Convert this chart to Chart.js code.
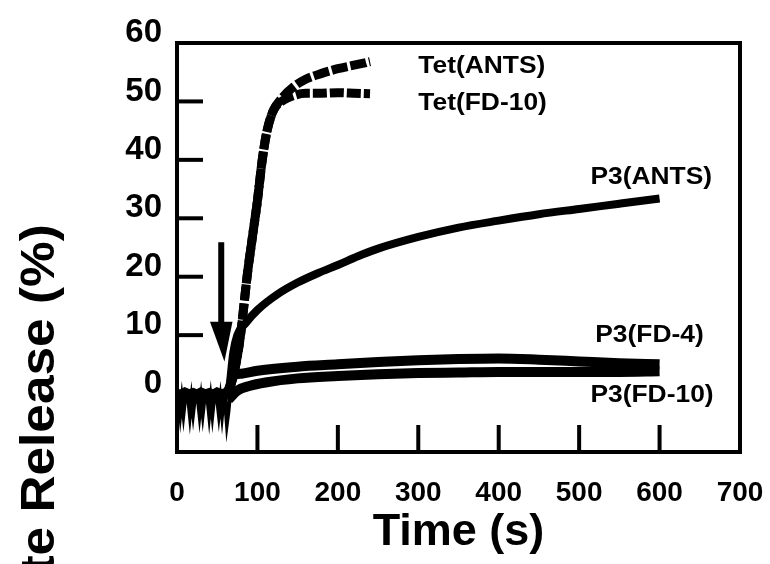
<!DOCTYPE html>
<html>
<head>
<meta charset="utf-8">
<script src="https://cdn.jsdelivr.net/npm/chart.js@4"></script>
<style>
html,body{margin:0;padding:0;background:#fff;}
#wrap{position:relative;width:770px;height:564px;}
</style>
</head>
<body>
<div id="wrap"><canvas id="c" width="770" height="564"></canvas></div>
<script>
// ---- data ----
const xTickValues = [0,100,200,300,400,500,600,700];
const yTickValues = [0,10,20,30,40,50,60];
const xTitle = 'Time (s)';
const yTitle = 'Solute Release (%)';

// pre-injection baseline (noisy band) and its downward noise teeth
const baselineX = [0,5,10,15,20,25,30,35,40,45,50,55,60,64];
const baselineY = [-0.2,-0.5,-0.1,-0.4,-0.2,-0.5,-0.1,-0.4,-0.2,-0.5,-0.1,-0.4,-0.2,-0.3];
const teethX = [2,4,6,8,10,14,16,18,20,22,26,28,30,32,34,38,40,42,44,46,50,52,54,56,58,60,62,64,66];
const teethY = [-1,-3.6,-1,-3.5,-1,-1,-3.7,-1,-3.4,-1,-1,-3.6,-1,-3.5,-1,-1,-3.7,-1,-3.6,-1,-1,-3.5,-1,-3.7,-1,-1.5,-5.1,-3,0];

const tetAntsX = [62,70,78,88,95,100,106,112,120,130,145,160,180,200,220,240];
const tetAntsY = [0,3,9,21,28,33,40,45,48.5,50.5,52.5,53.8,54.8,55.6,56.2,56.8];
const tetFd10X = [62,70,78,88,95,100,106,112,120,130,145,160,180,200,220,240];
const tetFd10Y = [0,3,9,21,28,33,40,45,48.5,50,51,51.4,51.4,51.5,51.4,51.3];

const p3AntsX = [66,70,75,85,100,125,150,175,200,225,250,300,350,400,450,500,550,600];
const p3AntsY = [2,7,10,12,14.3,17,19,20.6,22,23.5,24.8,26.8,28.4,29.6,30.7,31.6,32.5,33.4];

const p3Fd4X = [64,70,80,100,150,200,250,300,350,400,450,500,550,600];
const p3Fd4Y = [0,3,3.4,3.9,4.6,5.0,5.4,5.7,5.9,6.0,5.8,5.5,5.2,5.0];
const p3Fd10X = [64,75,90,110,150,200,250,300,350,400,450,500,550,600];
const p3Fd10Y = [-1,0.5,1.3,1.9,2.6,3.0,3.3,3.5,3.6,3.7,3.7,3.7,3.7,3.8];

// annotation labels (data coordinates)
const labelTexts = ['Tet(ANTS)','Tet(FD-10)','P3(ANTS)','P3(FD-4)','P3(FD-10)'];
const labelX = [300,300,514,520,514];
const labelY = [56,49.7,37,10,-0.3];

// injection arrow (data coordinates)
const arrowX = 55;
const arrowTopY = 25.9;
const arrowHeadBaseY = 12.3;
const arrowHeadLeftX = 41;
const arrowHeadRightX = 69;
const arrowTipX = 59;
const arrowTipY = 5.5;

function pts(xs, ys){ return xs.map((x,i)=>({x:x, y:ys[i]})); }

const FONT = "'Liberation Sans', Arial, Helvetica, sans-serif";

const framePlugin = {
  id: 'frame',
  afterDatasetsDraw(chart){
    const {ctx, chartArea:a, scales:{x, y}} = chart;
    ctx.save();
    ctx.strokeStyle = '#000';
    ctx.fillStyle = '#000';
    // arrow
    const ax = x.getPixelForValue(arrowX);
    ctx.lineWidth = 6;
    ctx.beginPath();
    ctx.moveTo(ax, y.getPixelForValue(arrowTopY));
    ctx.lineTo(ax, y.getPixelForValue(arrowHeadBaseY)+2);
    ctx.stroke();
    ctx.beginPath();
    ctx.moveTo(x.getPixelForValue(arrowHeadLeftX), y.getPixelForValue(arrowHeadBaseY));
    ctx.lineTo(x.getPixelForValue(arrowHeadRightX), y.getPixelForValue(arrowHeadBaseY));
    ctx.lineTo(x.getPixelForValue(arrowTipX), y.getPixelForValue(arrowTipY));
    ctx.closePath();
    ctx.fill();
    // inward ticks
    ctx.lineWidth = 4;
    xTickValues.forEach(v=>{
      if (v<=x.min || v>=x.max) return;
      const px = x.getPixelForValue(v);
      ctx.beginPath(); ctx.moveTo(px, a.bottom); ctx.lineTo(px, a.bottom-27); ctx.stroke();
    });
    yTickValues.forEach(v=>{
      if (v<=y.min || v>=y.max) return;
      const py = y.getPixelForValue(v);
      ctx.beginPath(); ctx.moveTo(a.left, py); ctx.lineTo(a.left+26, py); ctx.stroke();
    });
    // box
    ctx.lineWidth = 4;
    ctx.strokeRect(a.left, a.top, a.right-a.left, a.bottom-a.top);
    // labels
    ctx.font = 'bold 24px ' + FONT;
    ctx.textAlign = 'left';
    ctx.textBaseline = 'middle';
    labelTexts.forEach((t,i)=>{
      ctx.save();
      ctx.translate(x.getPixelForValue(labelX[i]), y.getPixelForValue(labelY[i]));
      ctx.scale(1.1, 1);
      ctx.fillText(t, 0, 0);
      ctx.restore();
    });
    // y title
    ctx.font = 'bold 48px ' + FONT;
    ctx.textAlign = 'center';
    ctx.textBaseline = 'middle';
    ctx.translate(41, 454);
    ctx.rotate(-Math.PI/2);
    ctx.scale(1.07, 1);
    ctx.fillText(yTitle, 0, 0);
    ctx.restore();
  }
};

const common = {pointRadius:0, borderColor:'#000', backgroundColor:'#000', fill:false, cubicInterpolationMode:'monotone'};

new Chart(document.getElementById('c'), {
  type: 'line',
  data: {
    datasets: [
      Object.assign({}, common, {label:'baseline', data: pts(baselineX, baselineY), borderWidth:13, cubicInterpolationMode:'default', tension:0}),
      Object.assign({}, common, {label:'baseline noise', data: pts(teethX, teethY), borderWidth:4, cubicInterpolationMode:'default', tension:0}),
      Object.assign({}, common, {label:'Tet(ANTS)', data: pts(tetAntsX, tetAntsY), borderWidth:9, borderDash:[16,3]}),
      Object.assign({}, common, {label:'Tet(FD-10)', data: pts(tetFd10X, tetFd10Y), borderWidth:9, borderDash:[14,3], borderDashOffset:7}),
      Object.assign({}, common, {label:'P3(ANTS)', data: pts(p3AntsX, p3AntsY), borderWidth:8}),
      Object.assign({}, common, {label:'P3(FD-4)', data: pts(p3Fd4X, p3Fd4Y), borderWidth:10}),
      Object.assign({}, common, {label:'P3(FD-10)', data: pts(p3Fd10X, p3Fd10Y), borderWidth:10})
    ]
  },
  options: {
    responsive: false,
    animation: false,
    events: [],
    layout: {padding: {top: 43, right: 30, left: 0, bottom: 0}},
    plugins: {legend: {display:false}, tooltip: {enabled:false}},
    scales: {
      x: {
        type: 'linear', min: 0, max: 700,
        afterBuildTicks: s => { s.ticks = xTickValues.map(v=>({value:v})); },
        afterFit: s => { s.height = 112; s.paddingLeft = 0; s.paddingRight = 0; },
        grid: {display:false, drawTicks:false},
        border: {display:false},
        ticks: {color:'#000', padding: 24, maxRotation:0, font:{family:FONT, size:28, weight:'bold'}},
        title: {display:true, text:xTitle, color:'#000', font:{family:FONT, size:45, weight:'bold'}, padding:{top:0, bottom:4}}
      },
      y: {
        type: 'linear', min: -10, max: 60,
        afterBuildTicks: s => { s.ticks = yTickValues.map(v=>({value:v})); },
        afterFit: s => { s.width = 177; s.paddingTop = 0; s.paddingBottom = 0; },
        grid: {display:false, drawTicks:false},
        border: {display:false},
        ticks: {color:'#000', padding: 15, labelOffset: -10, font:{family:FONT, size:33, weight:'bold'}}
      }
    }
  },
  plugins: [framePlugin]
});
</script>
</body>
</html>
